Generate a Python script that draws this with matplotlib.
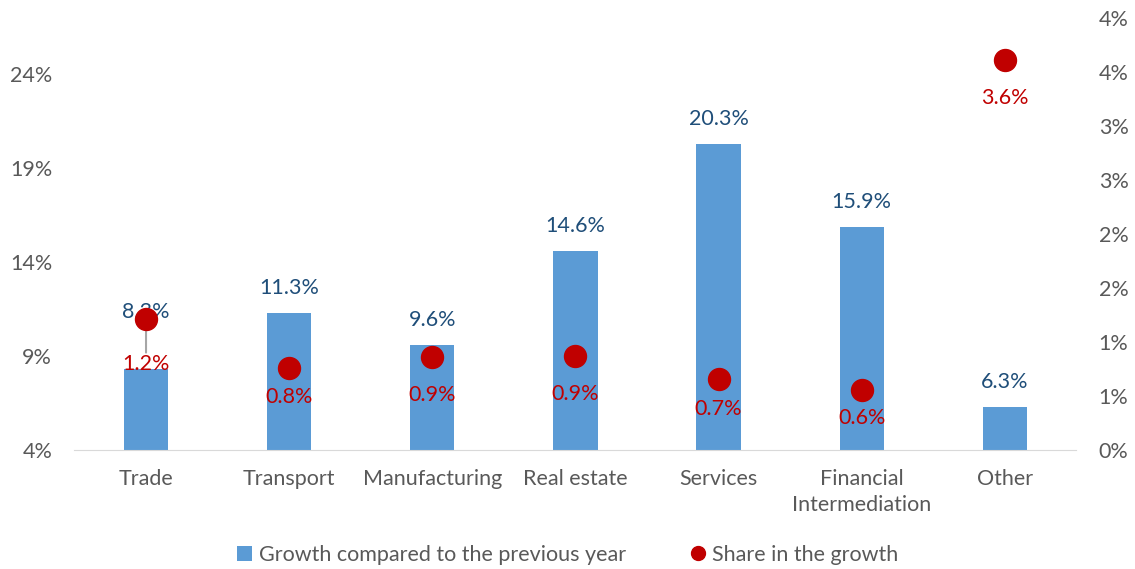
import matplotlib
matplotlib.use("Agg")
from matplotlib import pyplot as plt
from matplotlib.lines import Line2D
from matplotlib.patches import Patch

plt.rcParams['font.family'] = ['Lato', 'DejaVu Sans']

categories = ["Trade", "Transport", "Manufacturing", "Real estate", "Services",
              "Financial\nIntermediation", "Other"]
growth = [8.3, 11.3, 9.6, 14.6, 20.3, 15.9, 6.3]
share = [1.21, 0.76, 0.86, 0.87, 0.66, 0.56, 3.61]

left_ticks = [4, 9, 14, 19, 24]
right_ticks = [0, 0.5, 1, 1.5, 2, 2.5, 3, 3.5, 4]
right_labels = ["0%", "1%", "1%", "2%", "2%", "3%", "3%", "4%", "4%"]

BAR = "#5B9BD5"
DOT = "#C00000"
NAVY = "#1F4E79"
GREY = "#595959"
FS = 15.5

fig = plt.figure(figsize=(11.35, 5.69), dpi=100)
ax = fig.add_axes([0.0656, 0.2091, 0.8828, 0.7592])
ax2 = ax.twinx()

x = list(range(len(categories)))
ax.bar(x, growth, width=0.31, color=BAR, bottom=0, zorder=2)
ax.set_ylim(4, 27)
ax.set_xlim(-0.5, len(categories) - 0.5)
ax.set_yticks(left_ticks)
ax.set_yticklabels([f"{t}%" for t in left_ticks])
ax.set_xticks(x)
ax.set_xticklabels(categories, linespacing=1.35, va='top')
ax.tick_params(length=0, labelsize=FS, labelcolor=GREY, pad=16)
ax.tick_params(axis='x', pad=14)
for s in ax.spines.values():
    s.set_visible(False)
ax.spines['bottom'].set_visible(True)
ax.spines['bottom'].set_color("#D9D9D9")

# bar labels; Trade's label was moved up in the original
bar_off = {0: 57}
for i, v in enumerate(growth):
    ax.annotate(f"{v:.1f}%", (i, v), xytext=(0, bar_off.get(i, 25)),
                textcoords='offset pixels', ha='center', va='center',
                fontsize=FS, color=NAVY, zorder=3)

ax2.scatter(x, share, s=250, color=DOT, zorder=5)
ax2.set_ylim(0, 4)
ax2.set_yticks(right_ticks)
ax2.set_yticklabels(right_labels)
ax2.tick_params(length=0, labelsize=FS, labelcolor=GREY, pad=16)
for s in ax2.spines.values():
    s.set_visible(False)

dot_off = {0: -45, 1: -29, 2: -38, 3: -38, 4: -30, 5: -28, 6: -38}
for i, v in enumerate(share):
    off = dot_off[i]
    ax2.annotate(f"{v:.1f}%", (i, v), xytext=(0, off),
                 textcoords='offset pixels', ha='center', va='center',
                 fontsize=FS, color=DOT, zorder=6)
    if i == 0:
        # leader line to the moved label
        ax2.annotate("", (i, v), xytext=(0, off + 9), textcoords='offset pixels',
                     arrowprops=dict(arrowstyle='-', color="#A6A6A6", lw=1.5),
                     zorder=4)

handles = [Patch(facecolor=BAR, edgecolor='none', label="Growth compared to the previous year"),
           Line2D([], [], marker='o', color='none', markerfacecolor=DOT,
                  markeredgecolor=DOT, markersize=10, label="Share in the growth")]
leg = fig.legend(handles=handles, loc='center', bbox_to_anchor=(0.5, 0.025),
                 ncol=2, frameon=False, fontsize=FS, handlelength=0.7,
                 handletextpad=0.3, columnspacing=3.0)
for t in leg.get_texts():
    t.set_color(GREY)

fig.savefig("out.png", dpi=100)
